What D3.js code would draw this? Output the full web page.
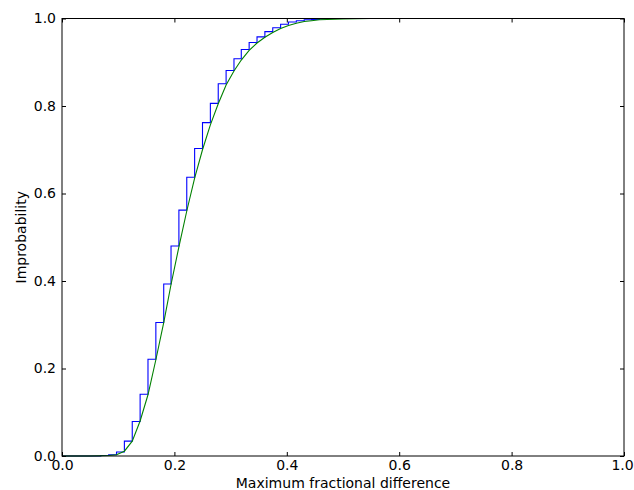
<!DOCTYPE html>
<html>
<head>
<meta charset="utf-8">
<script src="https://cdn.jsdelivr.net/npm/d3@7"></script>
<style>
  body { margin: 0; background: #fff; }
  text { font-family: "DejaVu Sans", sans-serif; font-size: 14px; fill: #000; }
</style>
</head>
<body>
<div id="chart"></div>
<script>
// empirical CDF (blue steps)
var stepX = [0, 0.069, 0.083, 0.097, 0.111, 0.125, 0.139, 0.153, 0.167, 0.181, 0.194,
  0.208, 0.222, 0.236, 0.25, 0.264, 0.278, 0.292, 0.306, 0.319, 0.333, 0.347, 0.361,
  0.375, 0.389, 0.403, 0.417, 0.431, 0.444, 0.458, 0.472, 1.0];
var stepY = [0, 0.001, 0.003, 0.009, 0.034, 0.079, 0.141, 0.221, 0.305, 0.393, 0.48,
  0.562, 0.637, 0.703, 0.762, 0.806, 0.851, 0.881, 0.908, 0.929, 0.945, 0.958, 0.970,
  0.979, 0.987, 0.992, 0.995, 0.997, 0.998, 0.999, 1.0, 1.0];

// fitted curve (green)
var fitX = [0, 0.05, 0.069, 0.083, 0.097, 0.111, 0.125, 0.139, 0.153, 0.167, 0.181, 0.194,
  0.208, 0.222, 0.236, 0.25, 0.264, 0.278, 0.292, 0.306, 0.319, 0.333, 0.347, 0.361,
  0.375, 0.389, 0.403, 0.417, 0.431, 0.444, 0.458, 0.5, 0.55, 0.6, 1.0];
var fitY = [0, 0, 0.0005, 0.001, 0.003, 0.011, 0.034, 0.08, 0.14, 0.22, 0.305, 0.392,
  0.478, 0.56, 0.635, 0.70, 0.757, 0.805, 0.848, 0.88, 0.905, 0.927, 0.944, 0.957,
  0.968, 0.977, 0.984, 0.989, 0.993, 0.995, 0.997, 0.999, 1.0, 1.0, 1.0];

var xTicks = [0, 0.2, 0.4, 0.6, 0.8, 1.0];
var yTicks = [0, 0.2, 0.4, 0.6, 0.8, 1.0];

var width = 634, height = 490;
var margin = {top: 18.5, right: 10, bottom: 34, left: 62};
var w = width - margin.left - margin.right,
    h = height - margin.top - margin.bottom;

var svg = d3.select("#chart").append("svg")
    .attr("width", width)
    .attr("height", height);

var g = svg.append("g")
    .attr("transform", "translate(" + margin.left + "," + margin.top + ")");

var x = d3.scaleLinear().domain([0, 1]).range([0, w]);
var y = d3.scaleLinear().domain([0, 1]).range([h, 0]);

var stepLine = d3.line()
    .x(function(d) { return x(d[0]); })
    .y(function(d) { return y(d[1]); })
    .curve(d3.curveStepAfter);

var fitLine = d3.line()
    .x(function(d) { return x(d[0]); })
    .y(function(d) { return y(d[1]); });

g.append("path")
    .datum(d3.zip(stepX, stepY))
    .attr("fill", "none")
    .attr("stroke", "#0000ff")
    .attr("stroke-width", 1.1)
    .attr("d", stepLine);

g.append("path")
    .datum(d3.zip(fitX, fitY))
    .attr("fill", "none")
    .attr("stroke", "#008000")
    .attr("stroke-width", 1.1)
    .attr("d", fitLine);

// axes with inward ticks on all four sides
var fmt = d3.format(".1f");
var xAxisG = g.append("g")
    .attr("transform", "translate(0," + h + ")")
    .call(d3.axisBottom(x).tickValues(xTicks).tickFormat(fmt).tickSizeInner(-4).tickSizeOuter(0).tickPadding(4));
g.append("g")
    .call(d3.axisTop(x).tickValues(xTicks).tickFormat("").tickSizeInner(-4).tickSizeOuter(0));
g.append("g")
    .call(d3.axisLeft(y).tickValues(yTicks).tickFormat(fmt).tickSizeInner(-4).tickSizeOuter(0).tickPadding(6));
g.append("g")
    .attr("transform", "translate(" + w + ",0)")
    .call(d3.axisRight(y).tickValues(yTicks).tickFormat("").tickSizeInner(-4).tickSizeOuter(0));

g.selectAll(".domain").remove();
g.selectAll(".tick text").style("font-size", "14px").style("font-family", "DejaVu Sans, sans-serif");

// keep the last x label inside the window
xAxisG.selectAll(".tick text")
    .filter(function(d) { return d === 1; })
    .attr("dx", "-2");

g.append("rect")
    .attr("width", w)
    .attr("height", h)
    .attr("fill", "none")
    .attr("stroke", "#000")
    .attr("stroke-width", 1);

svg.append("text")
    .attr("x", margin.left + w / 2)
    .attr("y", 488)
    .attr("text-anchor", "middle")
    .text("Maximum fractional difference");

svg.append("text")
    .attr("transform", "translate(26," + (margin.top + h / 2) + ") rotate(-90)")
    .attr("text-anchor", "middle")
    .text("Improbability");
</script>
</body>
</html>
